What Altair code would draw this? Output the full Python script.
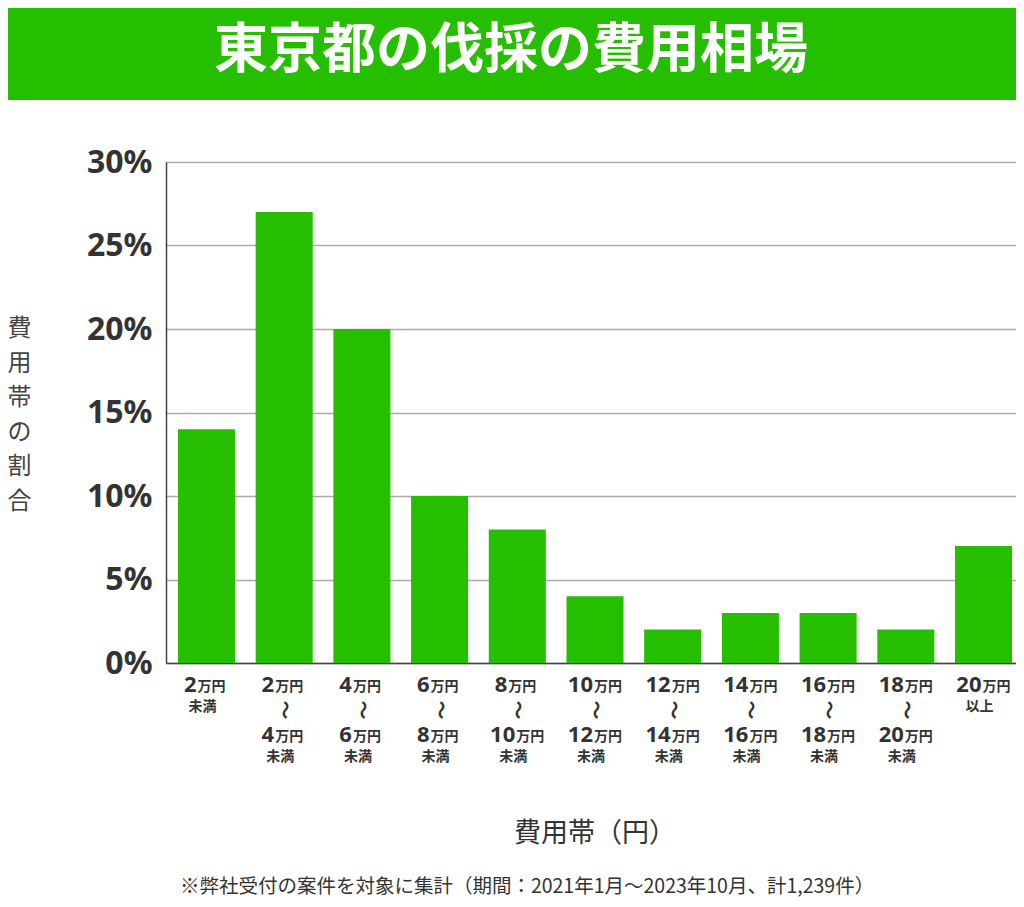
import altair as alt
import pandas as pd

# ---------------- data ----------------
categories = [
    "2万円未満", "2万円〜4万円未満", "4万円〜6万円未満", "6万円〜8万円未満",
    "8万円〜10万円未満", "10万円〜12万円未満", "12万円〜14万円未満",
    "14万円〜16万円未満", "16万円〜18万円未満", "18万円〜20万円未満", "20万円以上",
]
shares = [14, 27, 20, 10, 8, 4, 2, 3, 3, 2, 7]
upper_amounts = ["2", "2", "4", "6", "8", "10", "12", "14", "16", "18", "20"]
lower_amounts = ["", "4", "6", "8", "10", "12", "14", "16", "18", "20", ""]
single_suffix = ["未満", "", "", "", "", "", "", "", "", "", "以上"]
y_ticks = [0, 5, 10, 15, 20, 25, 30]

title_text = "東京都の伐採の費用相場"
y_title_lines = ["費", "用", "帯", "の", "割", "合"]
x_title_text = "費用帯（円）"
footnote_text = "※弊社受付の案件を対象に集計（期間：2021年1月〜2023年10月、計1,239件）"
unit_text = "万円"
below_text = "未満"
range_mark = "〜"

# ---------------- style ----------------
GREEN = "#25bf00"
TXT = "#333333"
FONT = "Noto Sans, Noto Sans CJK JP"
CJK = "Noto Sans CJK JP"

df = pd.DataFrame({
    "cat": categories, "share": shares,
    "up": upper_amounts, "low": lower_amounts, "suf": single_suffix,
})

xenc = alt.X(
    "cat:N", sort=categories, title=None,
    scale=alt.Scale(range=[0, 858], paddingInner=0.266, paddingOuter=0.154),
    axis=alt.Axis(labels=False, ticks=False, grid=False,
                  domainColor="#444444", domainWidth=1.5),
)

bars = alt.Chart(df).mark_bar(color=GREEN).encode(
    x=xenc,
    y=alt.Y(
        "share:Q",
        scale=alt.Scale(domain=[0, 30], nice=False),
        axis=alt.Axis(
            values=y_ticks, labelExpr="datum.value + '%'",
            labelFont=FONT, labelFontSize=32, labelFontWeight="bold",
            labelColor=TXT, labelPadding=14, ticks=False,
            grid=True, gridColor="#aaaaaa", gridWidth=1.5,
            domainColor="#444444", domainWidth=1.5,
            title=y_title_lines, titleAngle=0, titleFont=CJK,
            titleFontSize=24, titleFontWeight="normal", titleColor="#444444",
            titleLineHeight=34.6, titleX=-147, titleY=166.5,
            titleAlign="center", titleBaseline="middle",
        ),
    ),
)


def lab(filt, text, y, dx, align, size, font, baseline="alphabetic", angle=0,
        weight="bold"):
    m = alt.Chart(df).transform_filter(filt).mark_text(
        align=align, baseline=baseline, dx=dx, fontSize=size,
        fontWeight=weight, font=font, color=TXT, angle=angle,
    )
    return m.encode(x=xenc, y=alt.value(y), text=text)


NUM = 22
SUF = 14
layers = [
    # first line: amount + 万円
    lab("length(datum.up) == 1", "up:N", 530, -10, "right", NUM, FONT),
    lab("length(datum.up) == 1", alt.value(unit_text), 529, -9, "left", SUF, CJK),
    lab("length(datum.up) == 2", "up:N", 530, -2, "right", NUM, FONT),
    lab("length(datum.up) == 2", alt.value(unit_text), 529, -1, "left", SUF, CJK),
    # single-line suffix (未満 / 以上)
    lab("length(datum.suf) > 0", "suf:N", 549, -4, "center", SUF, CJK),
    # range mark
    lab("length(datum.low) > 0", alt.value(range_mark), 551.5, -3.5, "center",
        19, CJK, baseline="middle", angle=90, weight="bold"),
    # second line
    lab("length(datum.low) == 1", "low:N", 580, -10, "right", NUM, FONT),
    lab("length(datum.low) == 1", alt.value(unit_text), 579, -9, "left", SUF, CJK),
    lab("length(datum.low) == 2", "low:N", 580, -2, "right", NUM, FONT),
    lab("length(datum.low) == 2", alt.value(unit_text), 579, -1, "left", SUF, CJK),
    lab("length(datum.low) > 0", alt.value(below_text), 599, -4, "center", SUF, CJK),
]

one = alt.Data(values=[{"k": 1}])

banner = alt.Chart(one).mark_rect(color=GREEN).encode(
    x=alt.value(-170), x2=alt.value(856), y=alt.value(-170), y2=alt.value(-62)
)
title = alt.Chart(one).mark_text(
    font=CJK, fontSize=54, fontWeight="bold", color="white",
    align="center", baseline="middle",
).encode(x=alt.value(345), y=alt.value(-110), text=alt.value(title_text))

x_title = alt.Chart(one).mark_text(
    font=CJK, fontSize=27, color=TXT, align="center", baseline="middle",
).encode(x=alt.value(429), y=alt.value(671.5), text=alt.value(x_title_text))

footnote = alt.Chart(one).mark_text(
    font=CJK, fontSize=19.5, color=TXT, align="center", baseline="middle",
).encode(x=alt.value(361), y=alt.value(725), text=alt.value(footnote_text))

chart = alt.layer(bars, *layers, banner, title, x_title, footnote).properties(
    width=850, height=501,
    autosize=alt.AutoSizeParams(type="none"),
    padding={"left": 158, "top": 154, "right": 0, "bottom": 236},
).configure_view(stroke=None).configure(background="white")

chart.save("out.html", embed_options={"renderer": "svg", "actions": False})
